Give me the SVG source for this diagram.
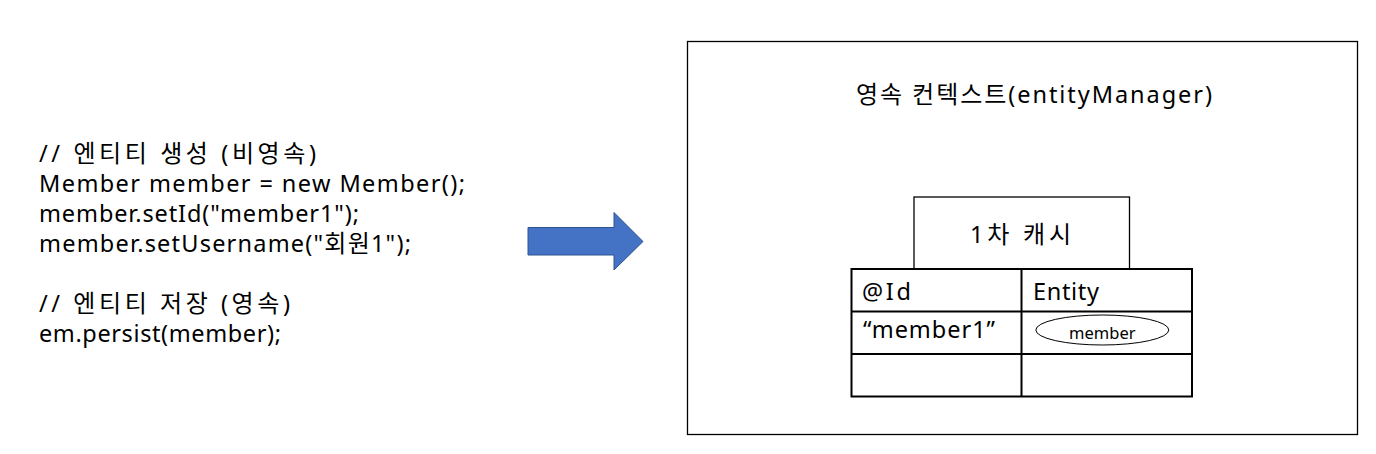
<svg xmlns="http://www.w3.org/2000/svg" width="1376" height="454" viewBox="0 0 1376 454">
<style>
text{font-family:"Noto Sans","Noto Sans CJK KR",sans-serif;fill:#000;font-size:23.5px}
.k{font-family:"Noto Sans CJK KR",sans-serif;font-size:24px}
.box{fill:#fff;stroke:#000;stroke-width:1.3}
.cell{fill:none;stroke:#000;stroke-width:2}
</style>
<rect width="1376" height="454" fill="#fff"/>
<g id="code">
<text x="39" y="162" textLength="277" lengthAdjust="spacing">// <tspan class="k">엔티티</tspan> <tspan class="k">생성</tspan> (<tspan class="k">비영속</tspan>)</text>
<text x="39" y="192" textLength="426" lengthAdjust="spacing">Member member = new Member();</text>
<text x="39" y="222" textLength="320" lengthAdjust="spacing">member.setId("member1");</text>
<text x="39" y="252" textLength="372" lengthAdjust="spacing">member.setUsername("<tspan class="k">회원</tspan>1");</text>
<text x="39" y="312" textLength="251" lengthAdjust="spacing">// <tspan class="k">엔티티</tspan> <tspan class="k">저장</tspan> (<tspan class="k">영속</tspan>)</text>
<text x="39" y="342" textLength="242" lengthAdjust="spacing">em.persist(member);</text>
</g>
<g id="connectors">
<polygon points="528,227.5 614,227.5 614,212.5 643,241.5 614,270 614,255 528,255" fill="#4472C4" stroke="#2F528F" stroke-width="1"/>
</g>
<g id="context">
<rect class="box" x="687.5" y="41.5" width="670" height="393"/>
<text x="856" y="103" textLength="356" lengthAdjust="spacing"><tspan class="k">영속</tspan> <tspan class="k">컨텍스트</tspan>(entityManager)</text>
</g>
<g id="cache">
<rect class="box" x="914" y="197" width="215.5" height="72"/>
<text x="970" y="243" textLength="101" lengthAdjust="spacing">1<tspan class="k">차</tspan> <tspan class="k">캐시</tspan></text>
</g>
<g id="table">
<rect class="cell" x="851.5" y="269" width="340.5" height="127.5"/>
<line class="cell" x1="851.5" y1="311.5" x2="1192" y2="311.5"/>
<line class="cell" x1="851.5" y1="354" x2="1192" y2="354"/>
<line class="cell" x1="1021.5" y1="269" x2="1021.5" y2="396.5"/>
<text x="862" y="300" textLength="49" lengthAdjust="spacing">@Id</text>
<text x="1033" y="300" textLength="66" lengthAdjust="spacing">Entity</text>
<text x="863" y="338" textLength="132" lengthAdjust="spacing">“member1”</text>
</g>
<g id="member">
<ellipse cx="1102.3" cy="330" rx="66.5" ry="15" fill="#fff" stroke="#000" stroke-width="1"/>
<text x="1102.3" y="339" style="font-size:16.5px" text-anchor="middle">member</text>
</g>
</svg>
